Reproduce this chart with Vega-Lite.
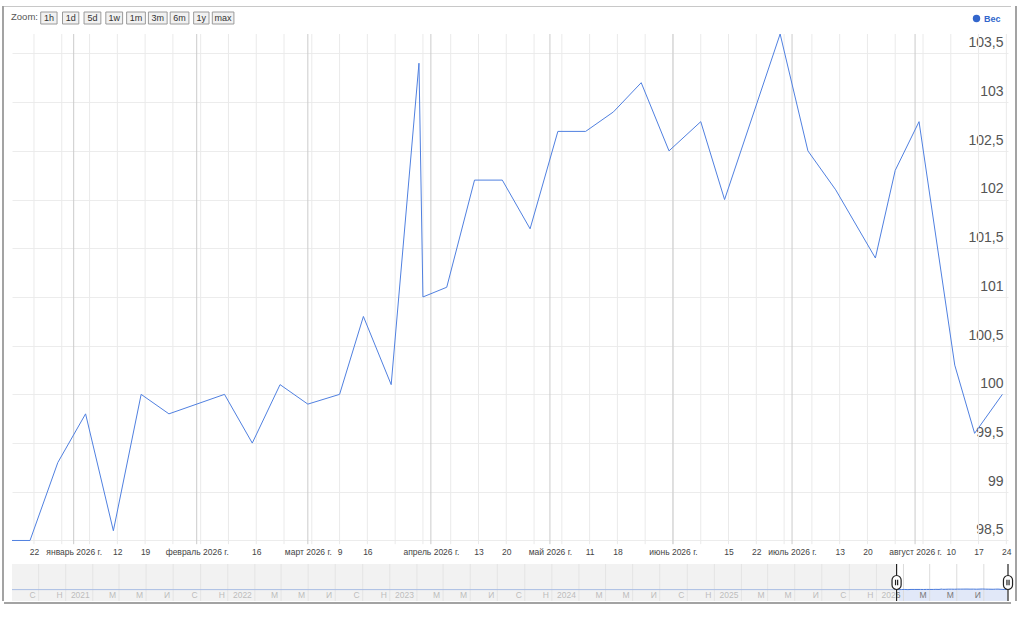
{
  "$schema": "https://vega.github.io/schema/vega-lite/v6.json",
  "padding": {"left": 2, "top": 6, "right": 0, "bottom": 0},
  "background": "white",
  "config": {
    "font": "Liberation Sans",
    "view": {"stroke": null}
  },
  "datasets": {
    "weight": [
      {"date": "2020-07-03", "weight": 98.5},
      {"date": "2025-12-21", "weight": 98.5},
      {"date": "2025-12-28", "weight": 99.3},
      {"date": "2026-01-04", "weight": 99.8},
      {"date": "2026-01-11", "weight": 98.6},
      {"date": "2026-01-18", "weight": 100.0},
      {"date": "2026-01-25", "weight": 99.8},
      {"date": "2026-02-08", "weight": 100.0},
      {"date": "2026-02-15", "weight": 99.5},
      {"date": "2026-02-22", "weight": 100.1},
      {"date": "2026-03-01", "weight": 99.9},
      {"date": "2026-03-09", "weight": 100.0},
      {"date": "2026-03-15", "weight": 100.8},
      {"date": "2026-03-22", "weight": 100.1},
      {"date": "2026-03-29", "weight": 103.4},
      {"date": "2026-03-30", "weight": 101.0},
      {"date": "2026-04-05", "weight": 101.1},
      {"date": "2026-04-12", "weight": 102.2},
      {"date": "2026-04-19", "weight": 102.2},
      {"date": "2026-04-26", "weight": 101.7},
      {"date": "2026-05-03", "weight": 102.7},
      {"date": "2026-05-10", "weight": 102.7},
      {"date": "2026-05-17", "weight": 102.9},
      {"date": "2026-05-24", "weight": 103.2},
      {"date": "2026-05-31", "weight": 102.5},
      {"date": "2026-06-08", "weight": 102.8},
      {"date": "2026-06-14", "weight": 102.0},
      {"date": "2026-06-28", "weight": 103.7},
      {"date": "2026-07-05", "weight": 102.5},
      {"date": "2026-07-12", "weight": 102.1},
      {"date": "2026-07-22", "weight": 101.4},
      {"date": "2026-07-27", "weight": 102.3},
      {"date": "2026-08-02", "weight": 102.8},
      {"date": "2026-08-11", "weight": 100.3},
      {"date": "2026-08-16", "weight": 99.6},
      {"date": "2026-08-23", "weight": 100.0}
    ],
    "mondays": [
      {"date": "2025-12-22"}, {"date": "2025-12-29"}, {"date": "2026-01-05"}, {"date": "2026-01-12"},
      {"date": "2026-01-19"}, {"date": "2026-01-26"}, {"date": "2026-02-02"}, {"date": "2026-02-09"},
      {"date": "2026-02-16"}, {"date": "2026-02-23"}, {"date": "2026-03-02"}, {"date": "2026-03-09"},
      {"date": "2026-03-16"}, {"date": "2026-03-23"}, {"date": "2026-03-30"}, {"date": "2026-04-06"},
      {"date": "2026-04-13"}, {"date": "2026-04-20"}, {"date": "2026-04-27"}, {"date": "2026-05-04"},
      {"date": "2026-05-11"}, {"date": "2026-05-18"}, {"date": "2026-05-25"}, {"date": "2026-06-01"},
      {"date": "2026-06-08"}, {"date": "2026-06-15"}, {"date": "2026-06-22"}, {"date": "2026-06-29"},
      {"date": "2026-07-06"}, {"date": "2026-07-13"}, {"date": "2026-07-20"}, {"date": "2026-07-27"},
      {"date": "2026-08-03"}, {"date": "2026-08-10"}, {"date": "2026-08-17"}, {"date": "2026-08-24"}
    ],
    "months": [
      {"date": "2026-01-01"}, {"date": "2026-02-01"}, {"date": "2026-03-01"}, {"date": "2026-04-01"},
      {"date": "2026-05-01"}, {"date": "2026-06-01"}, {"date": "2026-07-01"}, {"date": "2026-08-01"}
    ],
    "navMarks": [
      {"date": "2020-09-01", "label": "С"}, {"date": "2020-11-01", "label": "Н"},
      {"date": "2021-01-01", "label": "2021"}, {"date": "2021-03-01", "label": "М"}, {"date": "2021-05-01", "label": "М"},
      {"date": "2021-07-01", "label": "И"}, {"date": "2021-09-01", "label": "С"}, {"date": "2021-11-01", "label": "Н"},
      {"date": "2022-01-01", "label": "2022"}, {"date": "2022-03-01", "label": "М"}, {"date": "2022-05-01", "label": "М"},
      {"date": "2022-07-01", "label": "И"}, {"date": "2022-09-01", "label": "С"}, {"date": "2022-11-01", "label": "Н"},
      {"date": "2023-01-01", "label": "2023"}, {"date": "2023-03-01", "label": "М"}, {"date": "2023-05-01", "label": "М"},
      {"date": "2023-07-01", "label": "И"}, {"date": "2023-09-01", "label": "С"}, {"date": "2023-11-01", "label": "Н"},
      {"date": "2024-01-01", "label": "2024"}, {"date": "2024-03-01", "label": "М"}, {"date": "2024-05-01", "label": "М"},
      {"date": "2024-07-01", "label": "И"}, {"date": "2024-09-01", "label": "С"}, {"date": "2024-11-01", "label": "Н"},
      {"date": "2025-01-01", "label": "2025"}, {"date": "2025-03-01", "label": "М"}, {"date": "2025-05-01", "label": "М"},
      {"date": "2025-07-01", "label": "И"}, {"date": "2025-09-01", "label": "С"}, {"date": "2025-11-01", "label": "Н"},
      {"date": "2026-01-01", "label": "2026"}, {"date": "2026-03-01", "label": "М"}, {"date": "2026-05-01", "label": "М"},
      {"date": "2026-07-01", "label": "И"}
    ],
    "window": [
      {"edge": "start", "date": "2025-12-16T11:00:00Z"},
      {"edge": "end", "date": "2026-08-24T10:00:00Z"}
    ],
    "outside": [
      {"from": "2020-07-03", "to": "2025-12-16T11:00:00Z"}
    ],
    "buttons": [
      {"label": "1h"}, {"label": "1d"}, {"label": "5d"}, {"label": "1w"}, {"label": "1m"},
      {"label": "3m"}, {"label": "6m"}, {"label": "1y"}, {"label": "max"}
    ]
  },
  "spacing": 0,
  "align": "none",
  "hconcat": [
    {
      "width": 2, "height": 595,
      "view": {"fill": "#a3a3a3"},
      "data": {"values": []},
      "mark": "rect",
      "encoding": {}
    },
    {
      "spacing": 0,
      "align": "none",
      "vconcat": [
        {
          "width": 1007, "height": 1,
          "view": {"fill": "#c8c8c8"},
          "data": {"values": []},
          "mark": "rect",
          "encoding": {}
        },
        {
          "spacing": 0,
          "align": "none",
          "hconcat": [
            {
              "width": 34, "height": 26,
              "data": {"values": [{"caption": "Zoom:"}]},
              "mark": {"type": "text", "fontSize": 9.5, "color": "#555555", "dx": 3.5, "dy": -3},
              "encoding": {"text": {"field": "caption"}}
            },
            {
              "width": 196, "height": 26,
              "data": {"name": "buttons"},
              "encoding": {
                "x": {
                  "field": "label", "type": "nominal", "title": null, "axis": null,
                  "scale": {"type": "band", "domain": ["1h", "1d", "5d", "1w", "1m", "3m", "6m", "1y", "max"], "paddingInner": 0, "paddingOuter": 0}
                }
              },
              "layer": [
                {
                  "mark": {"type": "point", "filled": true, "fill": "#f1f1f1", "stroke": "#9a9a9a", "strokeWidth": 1, "opacity": 1, "size": 576, "yOffset": -2},
                  "encoding": {
                    "shape": {
                      "field": "label", "type": "nominal", "legend": null,
                      "scale": {
                        "domain": ["1h", "1d", "5d", "1w", "1m", "3m", "6m", "1y", "max"],
                        "range": [
                          "M-0.68,-0.5H0.68V0.5H-0.68Z", "M-0.68,-0.5H0.68V0.5H-0.68Z", "M-0.7,-0.5H0.7V0.5H-0.7Z",
                          "M-0.7,-0.5H0.7V0.5H-0.7Z", "M-0.78,-0.5H0.78V0.5H-0.78Z", "M-0.78,-0.5H0.78V0.5H-0.78Z",
                          "M-0.78,-0.5H0.78V0.5H-0.78Z", "M-0.64,-0.5H0.64V0.5H-0.64Z", "M-0.9,-0.5H0.9V0.5H-0.9Z"
                        ]
                      }
                    }
                  }
                },
                {
                  "mark": {"type": "text", "fontSize": 9, "color": "#333333", "baseline": "middle", "dy": -2},
                  "encoding": {"text": {"field": "label"}}
                }
              ]
            },
            {
              "width": 777, "height": 26,
              "data": {"values": [{"series": "Вес"}]},
              "mark": {"type": "point", "filled": true, "opacity": 0},
              "encoding": {
                "color": {
                  "field": "series", "type": "nominal",
                  "scale": {"range": ["#3366cc"]},
                  "legend": {
                    "orient": "none", "legendX": 970, "legendY": 8, "title": null,
                    "padding": 0, "symbolType": "circle", "symbolSize": 55, "symbolOpacity": 1,
                    "symbolFillColor": "#3366cc", "symbolStrokeWidth": 0,
                    "labelFontSize": 9, "labelFontWeight": "bold", "labelColor": "#3366cc", "labelOffset": 3,
                    "encode": {"symbols": {"update": {"fill": {"value": "#3366cc"}, "fillOpacity": {"value": 1}, "strokeWidth": {"value": 0}, "opacity": {"value": 1}}}}
                  }
                }
              }
            }
          ]
        },
        {
          "spacing": 0,
          "align": "none",
          "hconcat": [
            {
              "width": 6, "height": 566,
              "data": {"values": []},
              "mark": "rect",
              "encoding": {}
            },
            {
              "spacing": 0,
              "align": "none",
              "vconcat": [
                {
                  "width": 996, "height": 529,
                  "view": {"fill": "white"},
                  "layer": [
                    {
                      "data": {"name": "mondays"},
                      "mark": {"type": "rule", "color": "#eaeaea", "strokeWidth": 1},
                      "encoding": {
                        "x": {"field": "date", "type": "temporal", "title": null},
                        "y": {"datum": 98.462, "type": "quantitative", "title": null},
                        "y2": {"datum": 103.7}
                      }
                    },
                    {
                      "data": {"name": "months"},
                      "mark": {"type": "rule", "color": "#cbcbcb", "strokeWidth": 1},
                      "encoding": {
                        "x": {"field": "date", "type": "temporal", "title": null},
                        "y": {"datum": 98.462, "type": "quantitative", "title": null},
                        "y2": {"datum": 103.7}
                      }
                    },
                    {
                      "data": {"name": "weight"},
                      "mark": {"type": "line", "clip": true, "strokeWidth": 1, "color": "#5080e0"},
                      "encoding": {
                        "x": {
                          "field": "date", "type": "temporal", "title": null,
                          "scale": {
                            "type": "utc", "nice": false,
                            "domain": [
                              {"year": 2025, "month": 12, "date": 16, "hours": 11, "utc": true},
                              {"year": 2026, "month": 8, "date": 24, "hours": 10, "utc": true}
                            ]
                          },
                          "axis": {
                            "values": [
                              {"year": 2025, "month": 12, "date": 22, "utc": true},
                              {"year": 2026, "month": 1, "date": 1, "utc": true},
                              {"year": 2026, "month": 1, "date": 12, "utc": true},
                              {"year": 2026, "month": 1, "date": 19, "utc": true},
                              {"year": 2026, "month": 2, "date": 1, "utc": true},
                              {"year": 2026, "month": 2, "date": 16, "utc": true},
                              {"year": 2026, "month": 3, "date": 1, "utc": true},
                              {"year": 2026, "month": 3, "date": 9, "utc": true},
                              {"year": 2026, "month": 3, "date": 16, "utc": true},
                              {"year": 2026, "month": 4, "date": 1, "utc": true},
                              {"year": 2026, "month": 4, "date": 13, "utc": true},
                              {"year": 2026, "month": 4, "date": 20, "utc": true},
                              {"year": 2026, "month": 5, "date": 1, "utc": true},
                              {"year": 2026, "month": 5, "date": 11, "utc": true},
                              {"year": 2026, "month": 5, "date": 18, "utc": true},
                              {"year": 2026, "month": 6, "date": 1, "utc": true},
                              {"year": 2026, "month": 6, "date": 15, "utc": true},
                              {"year": 2026, "month": 6, "date": 22, "utc": true},
                              {"year": 2026, "month": 7, "date": 1, "utc": true},
                              {"year": 2026, "month": 7, "date": 13, "utc": true},
                              {"year": 2026, "month": 7, "date": 20, "utc": true},
                              {"year": 2026, "month": 8, "date": 1, "utc": true},
                              {"year": 2026, "month": 8, "date": 10, "utc": true},
                              {"year": 2026, "month": 8, "date": 17, "utc": true},
                              {"year": 2026, "month": 8, "date": 24, "utc": true}
                            ],
                            "labelExpr": "utcdate(datum.value) == 1 ? ['январь','февраль','март','апрель','май','июнь','июль','август','сентябрь','октябрь','ноябрь','декабрь'][utcmonth(datum.value)] + ' ' + utcyear(datum.value) + ' г.' : '' + utcdate(datum.value)",
                            "offset": -19,
                            "grid": false, "ticks": false, "tickSize": 0, "domain": false,
                            "labelFontSize": 8.5, "labelColor": "#444444", "labelPadding": 3,
                            "labelBaseline": "top", "labelAngle": 0,
                            "labelFlush": false, "labelOverlap": false, "labelBound": false
                          }
                        },
                        "y": {
                          "field": "weight", "type": "quantitative", "title": null,
                          "scale": {"domain": [98.2687, 103.7], "nice": false, "zero": false},
                          "axis": {
                            "orient": "right",
                            "values": [98.5, 98.75, 99, 99.25, 99.5, 99.75, 100, 100.25, 100.5, 100.75, 101, 101.25, 101.5, 101.75, 102, 102.25, 102.5, 102.75, 103, 103.25, 103.5],
                            "labelExpr": "(datum.value * 4) % 2 == 0 ? replace(format(datum.value, ''), '.', ',') : ''",
                            "grid": true, "gridColor": "#ececec", "gridWidth": 1,
                            "ticks": false, "tickSize": 0, "domain": false,
                            "labelAlign": "right", "labelPadding": -5, "labelBaseline": "alphabetic", "labelOffset": -6.6,
                            "labelFontSize": 14, "labelColor": "#555555",
                            "labelFlush": false, "labelOverlap": false, "labelBound": false
                          }
                        }
                      }
                    }
                  ]
                },
                {
                  "width": 996, "height": 37,
                  "view": {"fill": "white"},
                  "layer": [
                    {
                      "data": {"name": "weight"},
                      "transform": [{"filter": "datum.date >= utc(2025, 11, 16)"}],
                      "mark": {"type": "area", "color": "#e1e8f8"},
                      "encoding": {
                        "x": {
                          "field": "date", "type": "temporal", "title": null, "axis": null,
                          "scale": {
                            "type": "utc", "nice": false,
                            "domain": [
                              {"year": 2020, "month": 7, "date": 3, "utc": true},
                              {"year": 2026, "month": 8, "date": 24, "hours": 10, "utc": true}
                            ]
                          }
                        },
                        "y": {"field": "weight", "type": "quantitative", "title": null, "axis": null, "scale": {"domain": [0, 320], "nice": false}}
                      }
                    },
                    {
                      "data": {"name": "navMarks"},
                      "mark": {"type": "rule", "color": "#dcdcdc", "strokeWidth": 1},
                      "encoding": {"x": {"field": "date", "type": "temporal", "title": null}}
                    },
                    {
                      "data": {"name": "weight"},
                      "mark": {"type": "line", "color": "#4a7bdc", "strokeWidth": 1},
                      "encoding": {
                        "x": {"field": "date", "type": "temporal", "title": null},
                        "y": {"field": "weight", "type": "quantitative", "title": null}
                      }
                    },
                    {
                      "data": {"name": "navMarks"},
                      "mark": {"type": "text", "align": "right", "baseline": "middle", "dx": -3, "dy": 12, "fontSize": 8.5, "color": "#777777"},
                      "encoding": {
                        "x": {"field": "date", "type": "temporal", "title": null},
                        "text": {"field": "label"}
                      }
                    },
                    {
                      "data": {"name": "outside"},
                      "mark": {"type": "rect", "color": "#eaeaea", "opacity": 0.6},
                      "encoding": {
                        "x": {"field": "from", "type": "temporal", "title": null},
                        "x2": {"field": "to"}
                      }
                    },
                    {
                      "data": {"name": "window"},
                      "mark": {"type": "rule", "color": "#222222", "strokeWidth": 1.2},
                      "encoding": {"x": {"field": "date", "type": "temporal", "title": null}}
                    },
                    {
                      "data": {"name": "window"},
                      "mark": {
                        "type": "point", "filled": true, "fill": "white", "stroke": "#222222", "strokeWidth": 1.2, "opacity": 1, "size": 196,
                        "shape": "M-0.65,-0.35A0.65,0.65 0 0 1 0.65,-0.35L0.65,0.35A0.65,0.65 0 0 1 -0.65,0.35ZM-0.15,-0.4L-0.15,0.4M0.15,-0.4L0.15,0.4"
                      },
                      "encoding": {"x": {"field": "date", "type": "temporal", "title": null}}
                    }
                  ]
                }
              ]
            }
          ]
        },
        {
          "width": 1007, "height": 2,
          "view": {"fill": "#a3a3a3"},
          "data": {"values": []},
          "mark": "rect",
          "encoding": {}
        }
      ]
    },
    {
      "width": 2, "height": 595,
      "view": {"fill": "#a3a3a3"},
      "data": {"values": []},
      "mark": "rect",
      "encoding": {}
    }
  ]
}
